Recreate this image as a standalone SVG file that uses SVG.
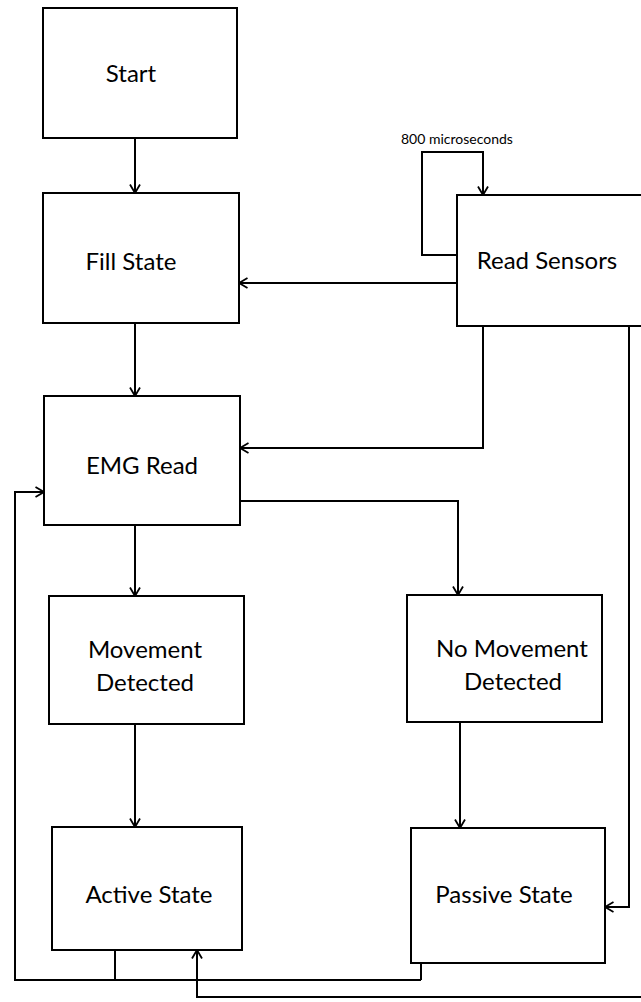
<svg xmlns="http://www.w3.org/2000/svg" width="641" height="1002" viewBox="0 0 641 1002">
<defs>
<marker id="arr" viewBox="0 0 10 12" refX="9.5" refY="6" markerWidth="10" markerHeight="12" markerUnits="userSpaceOnUse" orient="auto">
<path d="M1,1 L9.5,6 L1,11" fill="none" stroke="#000" stroke-width="1.8"/>
</marker>
</defs>
<style>
.box{fill:#fff;stroke:#000;stroke-width:2}
.t{font-family:Lato,"Liberation Sans",sans-serif;font-size:24px;fill:#000;text-anchor:middle}
.s{font-family:Lato,"Liberation Sans",sans-serif;font-size:14px;fill:#000}
.c{fill:none;stroke:#000;stroke-width:2}
.a{marker-end:url(#arr)}
</style>
<rect width="641" height="1002" fill="#fff"/>
<g id="connectors">
<path class="c a" d="M135,139 V193"/>
<path class="c a" d="M135,323 V396"/>
<path class="c a" d="M457,283 H239"/>
<path class="c a" d="M483,326 V448 H240"/>
<path class="c a" d="M457,255 H422 V152 H483 V195"/>
<path class="c a" d="M135,525 V596"/>
<path class="c a" d="M240,501 H458 V595"/>
<path class="c a" d="M135,724 V827"/>
<path class="c a" d="M460,722 V828"/>
<path class="c a" d="M629,326 V907 H605"/>
<path class="c" d="M115,950 V980"/>
<path class="c" d="M421,963 V980"/>
<path class="c a" d="M421,980 H15 V492 H44"/>
<path class="c a" d="M641,997 H197 V950"/>
<text class="s" x="401" y="144">800 microseconds</text>
</g>
<g id="start"><rect class="box" x="43" y="8" width="194" height="130"/><text class="t" x="131" y="82">Start</text></g>
<g id="fill"><rect class="box" x="43" y="193" width="196" height="130"/><text class="t" x="131" y="270">Fill State</text></g>
<g id="readsensors"><rect class="box" x="457" y="195" width="190" height="131"/><text class="t" x="547" y="269">Read Sensors</text></g>
<g id="emg"><rect class="box" x="44" y="396" width="196" height="129"/><text class="t" x="142" y="474">EMG Read</text></g>
<g id="movement"><rect class="box" x="49" y="596" width="195" height="128"/><text class="t" x="145" y="658">Movement</text><text class="t" x="145" y="691">Detected</text></g>
<g id="nomovement"><rect class="box" x="407" y="595" width="195" height="127"/><text class="t" x="512" y="657">No Movement</text><text class="t" x="513" y="690">Detected</text></g>
<g id="active"><rect class="box" x="52" y="827" width="190" height="123"/><text class="t" x="149" y="903">Active State</text></g>
<g id="passive"><rect class="box" x="411" y="828" width="194" height="135"/><text class="t" x="504" y="903">Passive State</text></g>
</svg>
